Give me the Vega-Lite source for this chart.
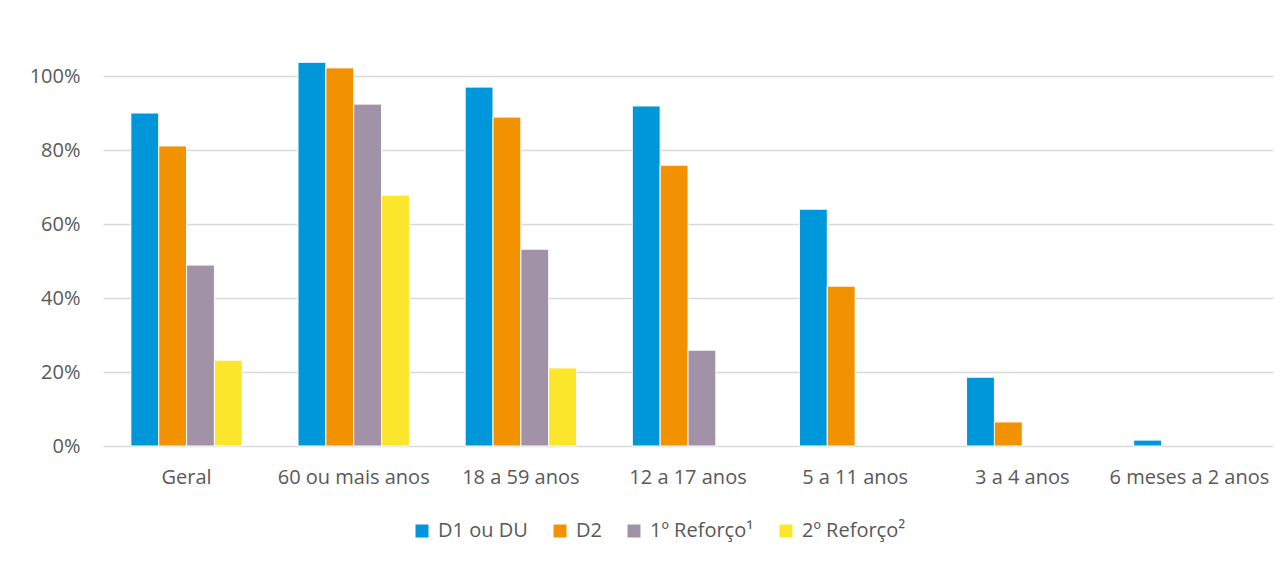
{
  "$schema": "https://vega.github.io/schema/vega-lite/v6.json",
  "width": 1170,
  "height": 407,
  "autosize": {"type": "none"},
  "padding": {"left": 103, "top": 39, "right": 15, "bottom": 118},
  "background": "#ffffff",
  "config": {
    "font": "Open Sans",
    "view": {"stroke": null},
    "axis": {"labelFont": "Open Sans", "labelColor": "#595959", "labelFontSize": 20}
  },
  "data": {
    "values": [
      {"grupo": "Geral", "dose": "D1 ou DU", "valor": 0.900},
      {"grupo": "Geral", "dose": "D2", "valor": 0.811},
      {"grupo": "Geral", "dose": "1º Reforço¹", "valor": 0.489},
      {"grupo": "Geral", "dose": "2º Reforço²", "valor": 0.232},
      {"grupo": "60 ou mais anos", "dose": "D1 ou DU", "valor": 1.037},
      {"grupo": "60 ou mais anos", "dose": "D2", "valor": 1.022},
      {"grupo": "60 ou mais anos", "dose": "1º Reforço¹", "valor": 0.924},
      {"grupo": "60 ou mais anos", "dose": "2º Reforço²", "valor": 0.678},
      {"grupo": "18 a 59 anos", "dose": "D1 ou DU", "valor": 0.970},
      {"grupo": "18 a 59 anos", "dose": "D2", "valor": 0.889},
      {"grupo": "18 a 59 anos", "dose": "1º Reforço¹", "valor": 0.532},
      {"grupo": "18 a 59 anos", "dose": "2º Reforço²", "valor": 0.211},
      {"grupo": "12 a 17 anos", "dose": "D1 ou DU", "valor": 0.919},
      {"grupo": "12 a 17 anos", "dose": "D2", "valor": 0.759},
      {"grupo": "12 a 17 anos", "dose": "1º Reforço¹", "valor": 0.259},
      {"grupo": "5 a 11 anos", "dose": "D1 ou DU", "valor": 0.640},
      {"grupo": "5 a 11 anos", "dose": "D2", "valor": 0.432},
      {"grupo": "3 a 4 anos", "dose": "D1 ou DU", "valor": 0.186},
      {"grupo": "3 a 4 anos", "dose": "D2", "valor": 0.065},
      {"grupo": "6 meses a 2 anos", "dose": "D1 ou DU", "valor": 0.016}
    ]
  },
  "mark": {"type": "bar", "stroke": "#ffffff", "strokeWidth": 1},
  "encoding": {
    "x": {
      "field": "grupo",
      "type": "nominal",
      "sort": ["Geral", "60 ou mais anos", "18 a 59 anos", "12 a 17 anos", "5 a 11 anos", "3 a 4 anos", "6 meses a 2 anos"],
      "scale": {"paddingInner": 0, "paddingOuter": 0},
      "axis": {
        "title": null,
        "labelAngle": 0,
        "ticks": false,
        "domain": false,
        "labelPadding": 21
      }
    },
    "xOffset": {
      "field": "dose",
      "type": "nominal",
      "sort": ["D1 ou DU", "D2", "1º Reforço¹", "2º Reforço²"],
      "scale": {"paddingInner": 0, "paddingOuter": 1.1}
    },
    "y": {
      "field": "valor",
      "type": "quantitative",
      "scale": {"domain": [0, 1.1], "nice": false},
      "axis": {
        "title": null,
        "values": [0, 0.2, 0.4, 0.6, 0.8, 1.0],
        "format": ".0%",
        "ticks": false,
        "domain": false,
        "gridColor": "#D9D9D9",
        "gridWidth": 1.5,
        "labelPadding": 23
      }
    },
    "color": {
      "field": "dose",
      "type": "nominal",
      "sort": ["D1 ou DU", "D2", "1º Reforço¹", "2º Reforço²"],
      "scale": {
        "domain": ["D1 ou DU", "D2", "1º Reforço¹", "2º Reforço²"],
        "range": ["#0096DA", "#F39200", "#A292A8", "#FCE62B"]
      },
      "legend": {
        "title": null,
        "orient": "none",
        "direction": "horizontal",
        "legendX": 309,
        "legendY": 482,
        "symbolType": "square",
        "symbolSize": 169,
        "symbolStrokeWidth": 0,
        "labelFont": "Open Sans",
        "labelFontSize": 20,
        "labelColor": "#595959",
        "labelOffset": 6,
        "columnPadding": 22
      }
    }
  }
}
